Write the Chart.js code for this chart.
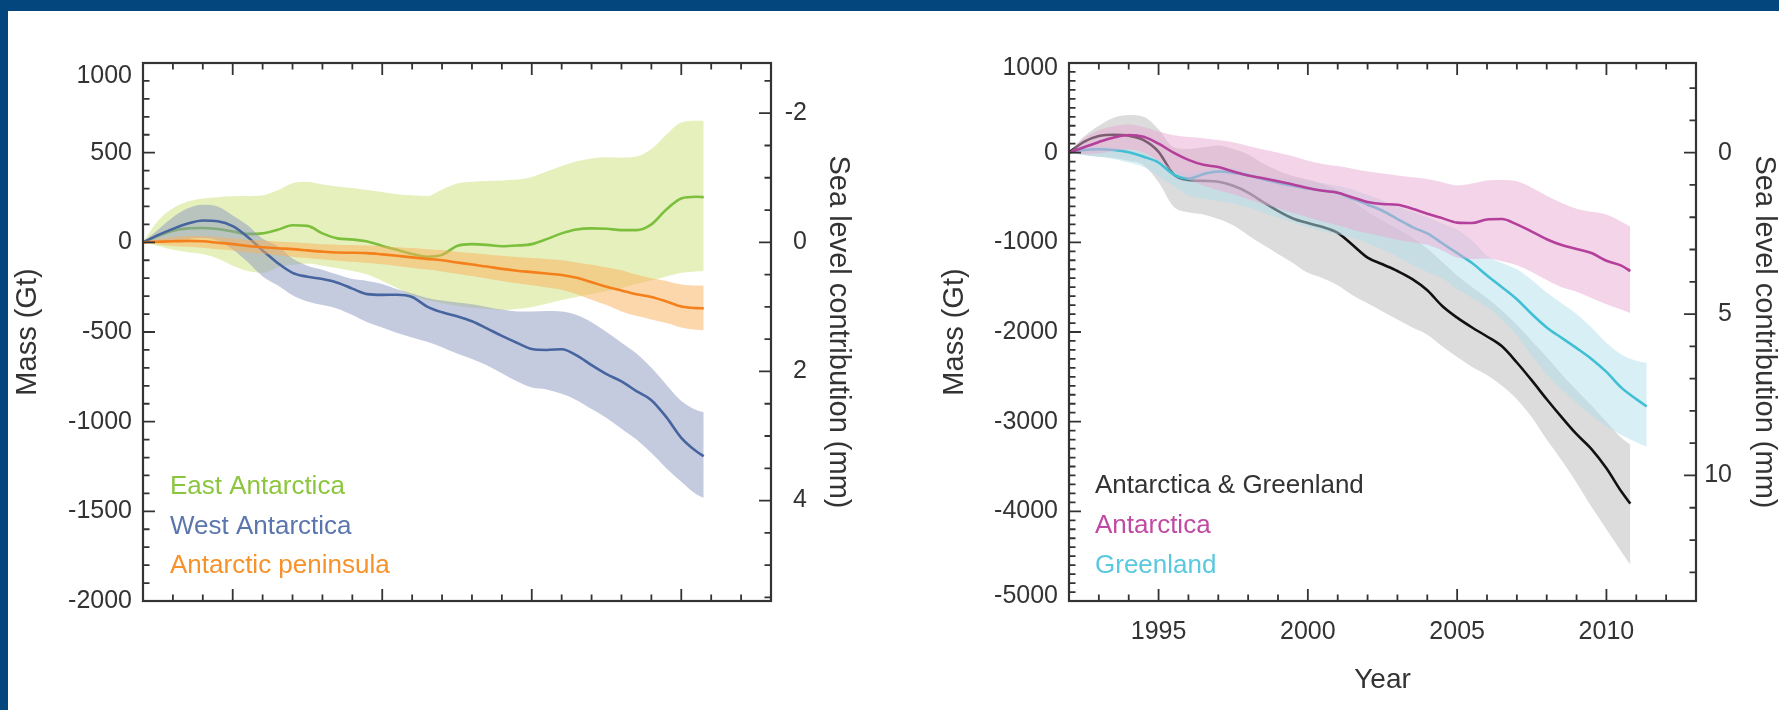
<!DOCTYPE html>
<html>
<head>
<meta charset="utf-8">
<script src="https://cdn.jsdelivr.net/npm/chart.js@4.4.1/dist/chart.umd.min.js"></script>
<style>
  html, body { margin: 0; padding: 0; width: 1779px; height: 710px; overflow: hidden; background: #03467e; }
  #panel { position: absolute; left: 8px; top: 11px; right: 0; bottom: 0; background: #fff; }
  .box { position: absolute; top: 0; height: 710px; }
  #leftBox { left: 0; width: 890px; }
  #rightBox { left: 890px; width: 889px; }
</style>
</head>
<body>
<div id="panel"></div>
<div class="box" id="leftBox"><canvas id="antarcticChart"></canvas></div>
<div class="box" id="rightBox"><canvas id="totalChart"></canvas></div>
<script>
// Left panel: Antarctic regions (Gt)
const leftYears = [1992, 1992.5, 1993, 1993.5, 1994, 1994.5, 1995, 1995.5, 1996, 1996.5, 1997, 1997.5, 1998, 1998.5, 1999, 1999.5, 2000, 2000.5, 2001, 2001.5, 2002, 2002.5, 2003, 2003.5, 2004, 2004.5, 2005, 2005.5, 2006, 2006.5, 2007, 2007.5, 2008, 2008.5, 2009, 2009.5, 2010, 2010.5, 2010.75];
const eastMass = [0, 35, 65, 78, 80, 74, 60, 47, 50, 70, 95, 92, 50, 22, 16, 5, -20, -42, -65, -80, -70, -20, -10, -14, -22, -18, -10, 18, 50, 72, 78, 76, 68, 68, 100, 183, 245, 254, 252];
const eastHigh = [0, 120, 190, 228, 245, 252, 257, 258, 262, 290, 330, 338, 322, 312, 303, 292, 280, 268, 262, 258, 295, 328, 338, 342, 345, 350, 365, 395, 425, 452, 468, 474, 472, 478, 520, 600, 668, 678, 678];
const eastLow = [0, -20, -42, -55, -65, -90, -130, -160, -170, -140, -125, -118, -130, -145, -160, -180, -215, -255, -295, -322, -340, -355, -365, -372, -377, -372, -360, -342, -322, -305, -288, -272, -255, -232, -212, -190, -170, -162, -160];
const westMass = [0, 40, 75, 105, 122, 118, 90, 30, -45, -115, -170, -192, -205, -225, -258, -289, -293, -292, -305, -358, -390, -412, -440, -480, -522, -560, -595, -600, -596, -630, -685, -735, -775, -830, -880, -975, -1090, -1165, -1192];
const westHigh = [0, 70, 140, 190, 210, 200, 150, 95, 20, -20, -90, -130, -153, -180, -205, -215, -232, -262, -285, -310, -325, -335, -345, -360, -375, -385, -385, -383, -385, -405, -445, -500, -560, -620, -700, -794, -885, -935, -947];
const westLow = [0, 5, 10, 20, 25, 10, -40, -110, -190, -240, -295, -330, -350, -370, -405, -445, -475, -505, -530, -555, -585, -620, -650, -685, -730, -775, -810, -820, -845, -880, -930, -980, -1040, -1100, -1175, -1260, -1335, -1405, -1425];
const peninsulaMass = [0, 3, 6, 8, 6, -2, -10, -20, -27, -33, -38, -45, -52, -57, -58, -60, -67, -75, -84, -92, -100, -112, -124, -135, -148, -158, -166, -174, -182, -198, -222, -248, -268, -290, -305, -330, -358, -367, -368];
const peninsulaHigh = [0, 18, 30, 36, 36, 30, 22, 15, 10, 5, 0, -5, -10, -13, -15, -18, -22, -27, -32, -38, -43, -52, -60, -68, -75, -82, -88, -93, -100, -112, -125, -140, -155, -180, -200, -215, -235, -241, -242];
const peninsulaLow = [0, -12, -20, -25, -30, -38, -45, -55, -63, -72, -80, -88, -95, -102, -108, -115, -122, -132, -142, -152, -162, -175, -188, -202, -215, -228, -240, -252, -265, -290, -320, -350, -385, -410, -430, -450, -475, -488, -490];

// Right panel: ice sheets (Gt)
const rightYears = [1992, 1992.5, 1993, 1993.5, 1994, 1994.5, 1995, 1995.5, 1996, 1996.5, 1997, 1997.5, 1998, 1998.5, 1999, 1999.5, 2000, 2000.5, 2001, 2001.5, 2002, 2002.5, 2003, 2003.5, 2004, 2004.5, 2005, 2005.5, 2006, 2006.5, 2007, 2007.5, 2008, 2008.5, 2009, 2009.5, 2010, 2010.5, 2010.8];
const bothMass = [0, 120, 185, 200, 190, 140, 10, -240, -305, -315, -325, -370, -445, -550, -650, -734, -785, -830, -895, -1030, -1170, -1245, -1320, -1410, -1534, -1710, -1840, -1950, -2050, -2160, -2340, -2540, -2750, -2950, -3140, -3306, -3520, -3780, -3914];
const bothHigh = [0, 180, 300, 390, 420, 400, 260, 60, 40, 60, 80, 40, -20, -120, -200, -260, -300, -350, -420, -540, -660, -760, -850, -950, -1070, -1220, -1370, -1500, -1620, -1760, -1920, -2100, -2280, -2470, -2650, -2820, -3000, -3180, -3256];
const bothLow = [0, -25, -45, -60, -90, -140, -330, -600, -665, -690, -740, -810, -920, -1028, -1130, -1230, -1340, -1400, -1480, -1590, -1680, -1770, -1860, -1950, -2030, -2160, -2280, -2390, -2480, -2600, -2749, -2950, -3200, -3430, -3680, -3950, -4200, -4450, -4597];
const antarcticaMass = [0, 60, 120, 170, 197, 177, 100, 0, -80, -135, -160, -210, -255, -285, -318, -354, -395, -425, -446, -500, -550, -572, -580, -625, -680, -730, -780, -785, -745, -740, -800, -880, -965, -1030, -1075, -1119, -1205, -1260, -1321];
const antarcticaHigh = [0, 160, 250, 295, 314, 285, 235, 195, 175, 162, 140, 115, 75, 35, 0, -41, -90, -125, -150, -180, -210, -232, -255, -275, -294, -330, -365, -345, -310, -305, -319, -390, -480, -560, -625, -660, -690, -770, -825];
const antarcticaLow = [0, -15, -10, 20, 35, 0, -90, -210, -300, -365, -420, -465, -520, -572, -620, -673, -720, -770, -810, -860, -900, -935, -970, -1000, -1028, -1090, -1170, -1185, -1180, -1210, -1256, -1330, -1420, -1500, -1550, -1620, -1690, -1750, -1787];
const greenlandYears = [1992, 1992.5, 1993, 1993.5, 1994, 1994.5, 1995, 1995.5, 1996, 1996.5, 1997, 1997.5, 1998, 1998.5, 1999, 1999.5, 2000, 2000.5, 2001, 2001.5, 2002, 2002.5, 2003, 2003.5, 2004, 2004.5, 2005, 2005.5, 2006, 2006.5, 2007, 2007.5, 2008, 2008.5, 2009, 2009.5, 2010, 2010.5, 2011, 2011.35];
const greenlandMass = [0, 30, 38, 30, 5, -45, -110, -243, -290, -240, -210, -225, -250, -295, -335, -370, -400, -425, -446, -515, -580, -648, -740, -830, -901, -1010, -1120, -1230, -1370, -1500, -1635, -1800, -1950, -2066, -2180, -2300, -2445, -2620, -2749, -2830];
const greenlandHigh = [0, 60, 75, 65, 40, -5, -80, -192, -215, -195, -175, -170, -215, -260, -285, -294, -320, -340, -370, -410, -470, -530, -600, -660, -720, -790, -860, -980, -1150, -1230, -1300, -1420, -1560, -1680, -1800, -1950, -2120, -2250, -2320, -2344];
const greenlandLow = [0, -25, -45, -70, -110, -160, -260, -370, -480, -515, -540, -570, -610, -670, -724, -780, -830, -880, -910, -950, -1010, -1078, -1160, -1250, -1330, -1400, -1520, -1620, -1720, -1860, -2040, -2260, -2470, -2640, -2790, -2930, -3050, -3150, -3230, -3281];

// tick labels
const yearLabels = [1995, 2000, 2005, 2010];
const leftMassLabels = [1000, 500, 0, -500, -1000, -1500, -2000];
const rightMassLabels = [1000, 0, -1000, -2000, -3000, -4000, -5000];
const leftSeaLabels = [-2, 0, 2, 4];
const rightSeaLabels = [0, 5, 10];
const GT_PER_MM = 360;

const FONT = '"Liberation Sans", Arial, Helvetica, sans-serif';
const TEXT = '#333';
Chart.defaults.font.family = FONT;
Chart.defaults.color = TEXT;

const pts = (xs, ys) => xs.map((x, i) => ({ x: x, y: ys[i] }));

function lineSet(label, xs, ys, color, legendColor, order) {
  return {
    label: label, data: pts(xs, ys), borderColor: color, borderWidth: 2.6,
    pointRadius: 0, fill: false, cubicInterpolationMode: 'monotone',
    order: order, legendColor: legendColor
  };
}

function bandSets(label, xs, hi, lo, color, order) {
  const common = { pointRadius: 0, borderWidth: 0, borderColor: 'transparent', cubicInterpolationMode: 'monotone', order: order };
  return [
    Object.assign({}, common, { label: label + ' upper', data: pts(xs, hi), fill: '+1', backgroundColor: color }),
    Object.assign({}, common, { label: label + ' lower', data: pts(xs, lo), fill: false })
  ];
}

// ticks every step, "major" ones get a label
function stepTicks(from, to, step, labels) {
  const out = [];
  for (let v = from; v <= to + 1e-9; v += step) {
    const val = Math.round(v * 100) / 100;
    out.push({ value: val, major: labels.includes(val) });
  }
  return out;
}
const tickText = (v, i, ticks) => ticks[i].major ? String(v) : '';

// end labels sit a little inside the frame, like the original
function massText(top, bottom, liftBottom) {
  return (v, i, ticks) => {
    if (!ticks[i].major) return '';
    if (v === top) return ['', String(v)];
    if (liftBottom && v === bottom) return [String(v), ''];
    return String(v);
  };
}

// frame with inward tick marks
const frameTicks = {
  id: 'frameTicks',
  afterDatasetsDraw(chart) {
    const { ctx, chartArea: a, scales } = chart;
    ctx.save();
    ctx.strokeStyle = '#333';
    ctx.lineWidth = 1.8;
    ctx.beginPath();
    scales.x.ticks.forEach(t => {
      const px = scales.x.getPixelForValue(t.value);
      const len = t.major ? 12 : 6.5;
      ctx.moveTo(px, a.bottom); ctx.lineTo(px, a.bottom - len);
      ctx.moveTo(px, a.top); ctx.lineTo(px, a.top + len);
    });
    scales.y.ticks.forEach(t => {
      const py = scales.y.getPixelForValue(t.value);
      const len = t.major ? 12 : 6.5;
      ctx.moveTo(a.left, py); ctx.lineTo(a.left + len, py);
    });
    scales.y2.ticks.forEach(t => {
      const py = scales.y2.getPixelForValue(t.value);
      const len = t.major ? 12 : 6.5;
      ctx.moveTo(a.right, py); ctx.lineTo(a.right - len, py);
    });
    ctx.stroke();
    ctx.lineWidth = 2.2;
    ctx.strokeRect(a.left, a.top, a.right - a.left, a.bottom - a.top);
    ctx.restore();
  }
};

// coloured series names inside the plot
const inlineLegend = {
  id: 'inlineLegend',
  afterDatasetsDraw(chart, args, opts) {
    const ctx = chart.ctx;
    ctx.save();
    ctx.font = '26px ' + FONT;
    ctx.textBaseline = 'middle';
    ctx.textAlign = 'left';
    opts.items.forEach((name, i) => {
      const ds = chart.data.datasets.find(d => d.label === name);
      ctx.fillStyle = ds.legendColor;
      ctx.fillText(name, chart.chartArea.left + opts.dx, opts.y + i * opts.gap);
    });
    ctx.restore();
  }
};

function makeOptions(cfg) {
  return {
    responsive: true,
    maintainAspectRatio: false,
    animation: false,
    events: [],
    layout: { padding: { left: 0, top: 63, right: cfg.padRight, bottom: 0 } },
    plugins: {
      legend: { display: false },
      tooltip: { enabled: false },
      inlineLegend: cfg.legend
    },
    scales: {
      x: {
        type: 'linear', min: 1992, max: 2013, position: 'bottom',
        grid: { display: false, drawTicks: false }, border: { display: false },
        afterFit: s => { s.height = 109; },
        afterBuildTicks: s => { s.ticks = stepTicks(1992, 2013, 1, yearLabels); },
        ticks: { autoSkip: false, maxRotation: 0, minRotation: 0, padding: 16, color: TEXT,
                 font: { size: 25 }, callback: cfg.showYears ? tickText : () => '' },
        title: { display: cfg.showYears, text: 'Year', color: TEXT,
                 font: { size: 28, lineHeight: 1 }, padding: { top: 0, bottom: 16 } }
      },
      y: {
        type: 'linear', min: cfg.massMin, max: cfg.massMax, position: 'left',
        grid: { display: false, drawTicks: false }, border: { display: false },
        afterFit: s => { s.width = cfg.yWidth; },
        afterBuildTicks: s => { s.ticks = stepTicks(cfg.massMin, cfg.massMax, 100, cfg.massLabels); },
        ticks: { autoSkip: false, padding: 11, color: TEXT,
                 font: { size: 25, lineHeight: cfg.edgeLift * 2 + 'px' },
                 callback: massText(cfg.massMax, cfg.massMin, cfg.liftBottom) },
        title: { display: true, text: 'Mass (Gt)', color: TEXT,
                 font: { size: 29, lineHeight: 1 }, padding: { top: cfg.massTitlePad, bottom: 0 } }
      },
      y2: {
        type: 'linear', position: 'right', reverse: true,
        min: -cfg.massMax / GT_PER_MM, max: -cfg.massMin / GT_PER_MM,
        grid: { display: false, drawTicks: false }, border: { display: false },
        afterFit: s => { s.width = 36; },
        afterBuildTicks: s => { s.ticks = stepTicks(cfg.seaFrom, cfg.seaTo, cfg.seaStep, cfg.seaLabels); },
        ticks: { autoSkip: false, padding: 0, crossAlign: 'far', color: TEXT, font: { size: 25 }, callback: tickText },
        title: { display: true, text: 'Sea level contribution (mm)', color: TEXT,
                 font: { size: 29, lineHeight: 1 }, padding: { top: cfg.seaTitlePad, bottom: 0 } }
      }
    }
  };
}

new Chart(document.getElementById('antarcticChart'), {
  type: 'line',
  data: {
    datasets: [
      lineSet('Antarctic peninsula', leftYears, peninsulaMass, '#f4801c', '#f7922a', 0),
      ...bandSets('Antarctic peninsula', leftYears, peninsulaHigh, peninsulaLow, 'rgba(249, 175, 90, 0.5)', 1),
      lineSet('West Antarctica', leftYears, westMass, '#46659f', '#5a76ad', 2),
      ...bandSets('West Antarctica', leftYears, westHigh, westLow, 'rgba(140, 152, 192, 0.5)', 3),
      lineSet('East Antarctica', leftYears, eastMass, '#7cbf3c', '#8cc63e', 4),
      ...bandSets('East Antarctica', leftYears, eastHigh, eastLow, 'rgba(195, 220, 95, 0.42)', 5)
    ]
  },
  options: makeOptions({
    padRight: 83, yWidth: 143, massMin: -2000, massMax: 1000, massLabels: leftMassLabels,
    massTitlePad: 13.5, edgeLift: 13, liftBottom: false,
    seaFrom: -2.5, seaTo: 5.5, seaStep: 0.5, seaLabels: leftSeaLabels,
    seaTitlePad: -45.5, showYears: false,
    legend: { items: ['East Antarctica', 'West Antarctica', 'Antarctic peninsula'], dx: 27, y: 487, gap: 39.5 }
  }),
  plugins: [frameTicks, inlineLegend]
});

new Chart(document.getElementById('totalChart'), {
  type: 'line',
  data: {
    datasets: [
      lineSet('Antarctica', rightYears, antarcticaMass, '#b4409b', '#c04aa3', 0),
      ...bandSets('Antarctica', rightYears, antarcticaHigh, antarcticaLow, 'rgba(233, 170, 210, 0.5)', 1),
      lineSet('Greenland', greenlandYears, greenlandMass, '#40bfd5', '#5ac8de', 2),
      ...bandSets('Greenland', greenlandYears, greenlandHigh, greenlandLow, 'rgba(180, 224, 238, 0.5)', 3),
      lineSet('Antarctica & Greenland', rightYears, bothMass, '#111111', '#333333', 4),
      ...bandSets('Antarctica & Greenland', rightYears, bothHigh, bothLow, 'rgba(185, 185, 185, 0.5)', 5)
    ]
  },
  options: makeOptions({
    padRight: 47, yWidth: 179, massMin: -5000, massMax: 1000, massLabels: rightMassLabels,
    massTitlePad: 50.5, edgeLift: 5, liftBottom: true,
    seaFrom: -2, seaTo: 13, seaStep: 1, seaLabels: rightSeaLabels,
    seaTitlePad: -46.5, showYears: true,
    legend: { items: ['Antarctica & Greenland', 'Antarctica', 'Greenland'], dx: 26, y: 485.5, gap: 40 }
  }),
  plugins: [frameTicks, inlineLegend]
});
</script>
</body>
</html>
